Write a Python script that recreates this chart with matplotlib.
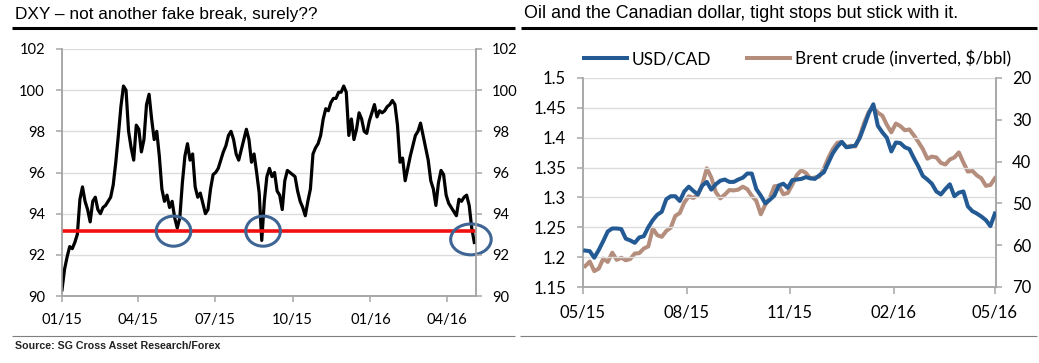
import pandas as pd
import matplotlib
matplotlib.use('Agg')
import matplotlib.pyplot as plt
import matplotlib.dates as mdates
from matplotlib.patches import Ellipse
from matplotlib.lines import Line2D

W, H = 1039, 363
DPI = 100

# --- left panel: DXY, sampled roughly every 3 days ---
dxy_values = [
    90.3, 91.3, 91.9, 92.4, 92.3, 92.6, 93.0, 94.7, 95.3, 94.6,
    94.2, 93.6, 94.6, 94.8, 94.2, 94.0, 94.3, 94.4, 94.6, 94.8,
    95.4, 96.5, 97.8, 99.2, 100.2, 100.0, 98.0, 97.2, 96.6, 98.3,
    98.1, 97.0, 97.6, 99.3, 99.8, 98.6, 97.6, 98.0, 96.8, 95.2,
    94.6, 94.9, 94.3, 94.6, 93.8, 93.3, 93.8, 95.5, 96.8, 97.4,
    96.6, 96.9, 95.3, 94.8, 95.0, 94.5, 94.0, 94.2, 95.2, 95.9,
    96.0, 96.2, 96.6, 97.0, 97.3, 97.8, 98.0, 97.6, 96.9, 96.6,
    97.1, 97.6, 98.1, 97.6, 96.5, 96.9, 96.0, 95.0, 92.7, 94.6,
    95.8, 96.2, 95.8, 96.0, 95.1, 94.9, 94.2, 95.6, 96.1, 96.0,
    95.9, 95.8, 95.1, 94.6, 94.3, 93.9, 94.6, 95.2, 96.9, 97.2,
    97.4, 97.8, 98.6, 99.1, 99.0, 99.4, 99.6, 99.6, 99.9, 99.9,
    100.2, 99.9, 97.8, 98.6, 97.6, 98.1, 98.9, 98.6, 98.0, 97.9,
    98.5, 98.9, 99.3, 98.7, 99.0, 98.9, 99.0, 99.2, 99.3, 99.5,
    99.3, 98.3, 96.5, 96.7, 95.6, 96.2, 96.8, 97.3, 97.8, 98.0,
    98.4, 97.8, 97.2, 96.6, 95.6, 95.2, 94.4, 95.5, 96.1, 95.9,
    94.9, 94.5, 94.3, 94.1, 93.9, 94.7, 94.6, 94.8, 94.9, 94.4,
    93.3, 92.6,
]
dxy_dates = pd.date_range('2015-01-01', '2016-05-03', periods=len(dxy_values))
support_level = 93.15
circle_dates = ['2015-05-13', '2015-08-27', '2016-04-29']
circle_levels = [93.15, 93.15, 92.75]
circle_days = [41, 41, 48]
circle_heights = [1.46, 1.46, 1.5]
dxy_yticks = [90, 92, 94, 96, 98, 100, 102]
dxy_xticks = ['2015-01-01', '2015-04-01', '2015-07-01', '2015-10-01', '2016-01-01', '2016-04-01']

# --- right panel: USD/CAD vs Brent (inverted), every 4 days ---
usdcad = [
    1.211, 1.210, 1.199, 1.212, 1.227, 1.243, 1.248, 1.248, 1.247, 1.231,
    1.228, 1.224, 1.233, 1.235, 1.250, 1.262, 1.271, 1.276, 1.297, 1.302,
    1.302, 1.294, 1.310, 1.318, 1.311, 1.305, 1.320, 1.326, 1.313, 1.322,
    1.328, 1.330, 1.326, 1.326, 1.330, 1.333, 1.340, 1.340, 1.314, 1.303,
    1.290, 1.296, 1.303, 1.320, 1.323, 1.316, 1.329, 1.330, 1.331, 1.334,
    1.332, 1.331, 1.337, 1.342, 1.358, 1.374, 1.385, 1.393, 1.384, 1.385,
    1.387, 1.400, 1.420, 1.441, 1.456, 1.420, 1.409, 1.400, 1.377, 1.392,
    1.391, 1.384, 1.381, 1.366, 1.352, 1.336, 1.330, 1.323, 1.310, 1.305,
    1.314, 1.322, 1.302, 1.308, 1.310, 1.285, 1.277, 1.273, 1.268, 1.262,
    1.252, 1.273,
]
brent = [
    65.0, 63.9, 66.2, 65.6, 63.2, 64.0, 61.8, 63.5, 63.0, 63.6,
    63.3, 62.0, 61.9, 60.8, 60.3, 56.0, 57.6, 58.0, 56.6, 55.8,
    53.0, 52.3, 49.8, 48.3, 48.7, 48.0, 45.5, 41.6, 43.8, 47.3,
    48.8, 47.9, 46.8, 46.9, 46.7, 46.0, 46.6, 48.2, 49.4, 52.6,
    50.3, 48.7, 45.9, 45.8, 47.8, 47.5, 45.5, 43.2, 42.1, 42.7,
    44.0, 43.8, 43.6, 41.7, 39.1, 37.0, 35.5, 35.3, 36.5, 36.2,
    36.4, 33.9, 30.6, 28.1, 27.0, 28.3, 29.0, 31.2, 33.0, 30.9,
    31.5, 32.5, 32.3, 33.7, 35.3, 37.0, 39.3, 38.8, 39.0, 40.3,
    40.7, 39.5, 39.0, 37.8, 40.2, 42.4, 42.2, 43.3, 44.0, 45.8,
    45.6, 44.0,
]
fx_dates = pd.date_range('2015-05-03', periods=len(usdcad), freq='4D')
cad_yticks = [1.15, 1.2, 1.25, 1.3, 1.35, 1.4, 1.45, 1.5]
cad_ylabels = ['1.15', '1.2', '1.25', '1.3', '1.35', '1.4', '1.45', '1.5']
brent_yticks = [20, 30, 40, 50, 60, 70]
fx_xticks = ['2015-05-01', '2015-08-01', '2015-11-01', '2016-02-01', '2016-05-01']

tick_font = 'Lato'
title_font = 'Liberation Sans'
grey = '#A6A6A6'
grid_grey = '#DCDCDC'
blue = '#245A94'
tan = '#B48D7C'

fig = plt.figure(figsize=(W / DPI, H / DPI), dpi=DPI)


def px_axes(x0, y0, x1, y1, **kw):
    return fig.add_axes([x0 / W, 1 - y1 / H, (x1 - x0) / W, (y1 - y0) / H], **kw)


def hrule(x0, x1, y, color, lw):
    fig.add_artist(Line2D([x0 / W, x1 / W], [1 - y / H, 1 - y / H], color=color, lw=lw,
                          solid_capstyle='butt'))


def style_axes(ax, size):
    for side in ['left', 'right', 'bottom']:
        ax.spines[side].set_color(grey)
        ax.spines[side].set_linewidth(1.1)
    ax.spines['top'].set_visible(False)
    ax.tick_params(axis='both', colors=grey, labelcolor='black', length=4, width=1.1,
                   pad=8, labelsize=size, labelfontfamily=tick_font)


# ---------------- left chart ----------------
ax1 = px_axes(62, 49, 476, 296)
ax1.plot(dxy_dates, dxy_values, color='black', lw=2.3, zorder=3)
ax1.axhline(support_level, color='#F01010', lw=2.6, zorder=4)
for d, lvl, wd, ht in zip(circle_dates, circle_levels, circle_days, circle_heights):
    ax1.add_patch(Ellipse((mdates.date2num(pd.Timestamp(d)), lvl), wd, ht, fill=False,
                          edgecolor='#3E6593', lw=2.2, zorder=5, clip_on=False))
ax1.set_xlim(pd.Timestamp('2015-01-01'), pd.Timestamp('2016-05-05'))
ax1.set_ylim(90, 102)
ax1.set_yticks(dxy_yticks)
ax1.set_xticks(pd.to_datetime(dxy_xticks))
ax1.xaxis.set_major_formatter(mdates.DateFormatter('%m/%y'))
ax1.grid(axis='y', color=grid_grey, lw=1)
ax1.set_axisbelow(True)
ax1r = ax1.twinx()
ax1r.set_ylim(90, 102)
ax1r.set_yticks(dxy_yticks)
style_axes(ax1, 11)
style_axes(ax1r, 11)

# white panel covers the overflow of the left chart's right labels
panel = px_axes(515, 0, W, H)
panel.axis('off')
panel.patch.set_visible(True)
panel.set_facecolor('white')

# ---------------- right chart ----------------
ax2 = px_axes(583, 78, 996, 287)
l1, = ax2.plot(fx_dates, usdcad, color=blue, lw=2.9, zorder=4, label='USD/CAD')
ax2.set_ylim(1.15, 1.5)
ax2.set_yticks(cad_yticks)
ax2.set_yticklabels(cad_ylabels)
ax2.set_xlim(pd.Timestamp('2015-05-01'), pd.Timestamp('2016-05-02'))
ax2.set_xticks(pd.to_datetime(fx_xticks))
ax2.xaxis.set_major_formatter(mdates.DateFormatter('%m/%y'))
ax2.grid(axis='y', color=grid_grey, lw=1)
ax2.set_axisbelow(True)
ax2r = ax2.twinx()
l2, = ax2r.plot(fx_dates, brent, color=tan, lw=2.9, zorder=3,
                label='Brent crude (inverted, $/bbl)')
ax2r.set_ylim(70, 20)
ax2r.set_yticks(brent_yticks)
ax2.set_zorder(ax2r.get_zorder() + 1)
ax2.patch.set_visible(False)
style_axes(ax2, 12)
style_axes(ax2r, 12)
ax2.tick_params(axis='x', length=5)

# ---------------- titles, rules, source ----------------
t_left = fig.text(15 / W, 1 - 14 / H, 'DXY \u2013 not another fake break, surely??',
                  family=title_font, fontsize=12, va='center', ha='left', color='black')
t_right = fig.text(524 / W, 1 - 14 / H, 'Oil and the Canadian dollar, tight stops but stick with it.',
                   family=title_font, fontsize=12, va='center', ha='left', color='black')
hrule(12, 515, 28, 'black', 2.2)
hrule(521, 1037, 28, 'black', 2.2)
hrule(12, 515, 336, '#7F7F7F', 0.8)
hrule(520, 1037, 336, '#7F7F7F', 0.8)
t_src = fig.text(15 / W, 1 - 346 / H, 'Source: SG Cross Asset Research/Forex', family=title_font,
                 fontsize=7.5, fontweight='bold', va='center', ha='left', color='#222222')

# ---- fit text sizes and label offsets to the measured reference positions ----
fig.canvas.draw()
rend = fig.canvas.get_renderer()


def width(t):
    return t.get_window_extent(rend).width


for t, target in [(t_left, 303), (t_right, 433), (t_src, 205)]:
    t.set_fontsize(t.get_fontsize() * target / width(t))

# tick label size from the width of the first date label
for ax, twin, size, target in [(ax1, ax1r, 11, 41), (ax2, ax2r, 12, 46)]:
    new = size * target / width(ax.get_xticklabels()[0])
    for a in (ax, twin):
        a.tick_params(axis='both', labelsize=new)
fig.canvas.draw()


def fit_pads(ax, twin, left_edge, right_edge, x_center_y):
    px2pt = 72 / DPI
    x1 = max(l.get_window_extent(rend).x1 for l in ax.get_yticklabels() if l.get_text())
    ax.tick_params(axis='y', pad=8 + (x1 - left_edge) * px2pt)
    x0 = min(l.get_window_extent(rend).x0 for l in twin.get_yticklabels() if l.get_text())
    twin.tick_params(axis='y', pad=8 + (right_edge - x0) * px2pt)
    bl = ax.get_xticklabels()[0].get_window_extent(rend)
    yc = (bl.y0 + bl.y1) / 2
    ax.tick_params(axis='x', pad=8 + (yc - (H - x_center_y)) * px2pt)


fit_pads(ax1, ax1r, 45, 492, 320)
fit_pads(ax2, ax2r, 566, 1012, 313)

# legend, sized so the Brent label spans the same width as the reference
legend_kw = dict(loc='center left', bbox_to_anchor=(584 / W, 1 - 59 / H), ncol=2,
                 frameon=False, borderpad=0, borderaxespad=0, handlelength=2.5,
                 handletextpad=0.25, columnspacing=2.1)
handles = [l1, l2]
labels = [l1.get_label(), l2.get_label()]
probe = fig.legend(handles, labels, prop={'family': tick_font, 'size': 12}, **legend_kw)
fig.canvas.draw()
leg_size = 12 * 215 / width(probe.get_texts()[1])
probe.remove()
fig.legend(handles, labels, prop={'family': tick_font, 'size': leg_size}, **legend_kw)

fig.savefig('out.png', dpi=DPI)
